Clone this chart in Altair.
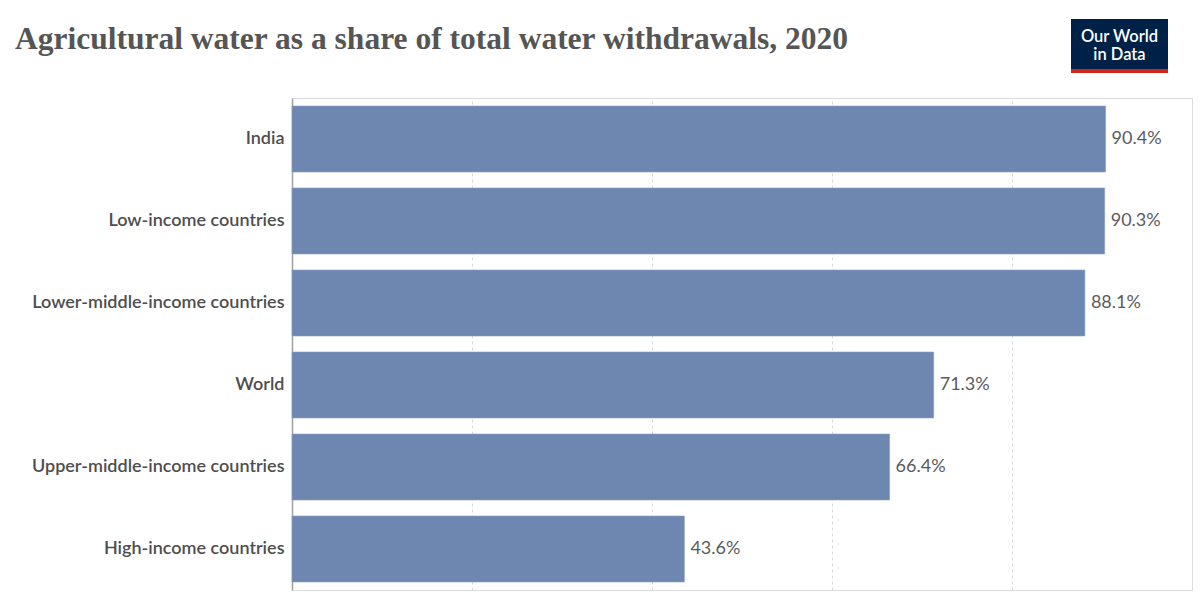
import altair as alt
import pandas as pd

countries = ["India", "Low-income countries", "Lower-middle-income countries",
             "World", "Upper-middle-income countries", "High-income countries"]
shares = [90.4, 90.3, 88.1, 71.3, 66.4, 43.6]
labels = ["90.4%", "90.3%", "88.1%", "71.3%", "66.4%", "43.6%"]
grid_ticks = [0, 20, 40, 60, 80]

df = pd.DataFrame({"country": countries, "share": shares, "label": labels})
one = pd.DataFrame({"k": [0]})

W, H = 900, 492
TOP = 98  # plot top in page pixels
BAR = "#6D87B0"

x = alt.X("share:Q", scale=alt.Scale(domain=[0, 100], nice=False),
          axis=alt.Axis(values=grid_ticks, labels=False, ticks=False, domain=False,
                        grid=True, gridDash=[3, 3], gridColor="#d9d9d9", gridWidth=1,
                        title=None))
y = alt.Y("country:N", sort=countries,
          scale=alt.Scale(paddingInner=0.195, paddingOuter=0.0975),
          axis=alt.Axis(title=None, ticks=False, domain=True, domainColor="#a0a0a0",
                        domainWidth=1.5, labelFont="Lato", labelFontSize=18,
                        labelFontWeight=600, labelColor="#4e4e4e", labelPadding=8,
                        labelLimit=0, grid=False))

bars = alt.Chart(df).mark_bar(color=BAR, stroke="#8fa3c4", strokeWidth=0.6).encode(x=x, y=y)

vals = alt.Chart(df).mark_text(align="left", baseline="middle", dx=6, font="Lato",
                               fontSize=18, color="#5b5b5b").encode(
    x=alt.X("share:Q"), y=alt.Y("country:N", sort=countries), text="label:N")

title = alt.Chart(one).mark_text(align="left", baseline="alphabetic", font="Liberation Serif",
                                 fontSize=31.5, fontWeight="bold", color="#555555").encode(
    x=alt.value(-277), y=alt.value(49 - TOP),
    text=alt.value("Agricultural water as a share of total water withdrawals, 2020"))

logo_box = alt.Chart(one).mark_rect(color="#002147").encode(
    x=alt.value(1071 - 292), x2=alt.value(1168 - 292), y=alt.value(19 - TOP), y2=alt.value(69 - TOP))
logo_red = alt.Chart(one).mark_rect(color="#ce261e").encode(
    x=alt.value(1071 - 292), x2=alt.value(1168 - 292), y=alt.value(69 - TOP), y2=alt.value(73 - TOP))
logo_t1 = alt.Chart(one).mark_text(align="center", baseline="alphabetic", font="Lato",
                                   fontSize=16.5, fontWeight=600, color="white").encode(
    x=alt.value(1119.5 - 292), y=alt.value(41.5 - TOP), text=alt.value("Our World"))
logo_t2 = alt.Chart(one).mark_text(align="center", baseline="alphabetic", font="Lato",
                                   fontSize=16.5, fontWeight=600, color="white").encode(
    x=alt.value(1119.5 - 292), y=alt.value(60 - TOP), text=alt.value("in Data"))

chart = alt.layer(bars, vals, title, logo_box, logo_red, logo_t1, logo_t2).properties(
    width=W, height=H,
    autosize=alt.AutoSizeParams(type="none"),
    padding={"left": 284, "top": TOP - 8, "right": 1, "bottom": 2},
).configure_view(stroke=None).configure(background="white")

chart.save("out.html", embed_options={"renderer": "svg", "actions": False})
